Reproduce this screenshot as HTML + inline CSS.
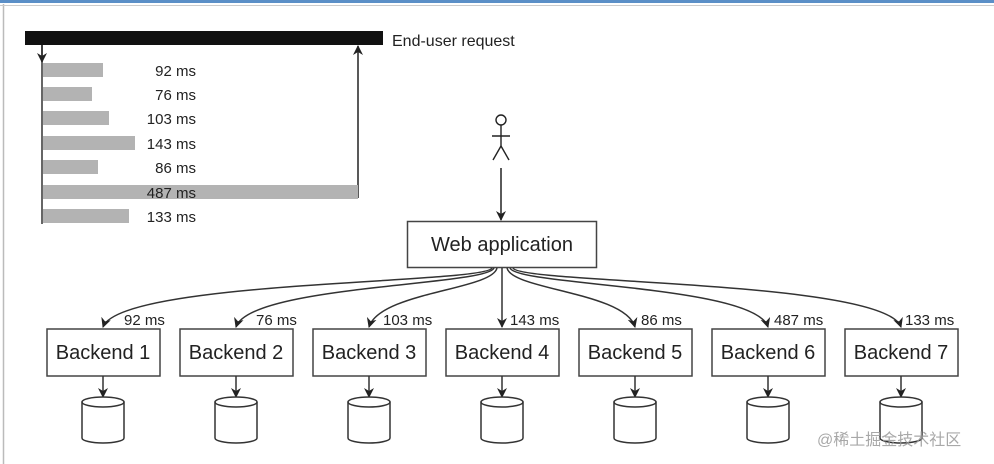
<!DOCTYPE html>
<html><head><meta charset="utf-8"><style>
html,body{margin:0;padding:0;background:#fff;}
svg{display:block;}
text{font-family:"Liberation Sans",sans-serif;fill:#222;}
</style></head><body>
<svg width="994" height="464" viewBox="0 0 994 464" xmlns="http://www.w3.org/2000/svg">
<defs>
<marker id="ah" viewBox="0 0 10 10" refX="9" refY="5" markerWidth="10" markerHeight="10" orient="auto-start-reverse" markerUnits="userSpaceOnUse">
<path d="M0,0 L10,5 L0,10 L3,5 z" fill="#222"/>
</marker>
</defs>
<rect x="0" y="0" width="994" height="3" fill="#5b8fc7"/>
<line x1="3.5" y1="4" x2="3.5" y2="464" stroke="#bbb" stroke-width="1.5"/>
<line x1="0" y1="5.5" x2="994" y2="5.5" stroke="#ccc" stroke-width="1"/>
<rect x="25" y="31" width="358" height="14" fill="#111"/>
<text x="392" y="46" font-size="16">End-user request</text>
<line x1="42" y1="45" x2="42" y2="224" stroke="#333" stroke-width="1.5"/>
<line x1="42" y1="45" x2="42" y2="62" stroke="#222" stroke-width="1.5" marker-end="url(#ah)"/>
<line x1="358" y1="198" x2="358" y2="46" stroke="#222" stroke-width="1.5" marker-end="url(#ah)"/>
<g fill="#b3b3b3">
<rect x="43" y="63" width="60" height="14"/>
<rect x="43" y="87" width="49" height="14"/>
<rect x="43" y="111" width="66" height="14"/>
<rect x="43" y="136" width="92" height="14"/>
<rect x="43" y="160" width="55" height="14"/>
<rect x="43" y="185" width="315" height="14"/>
<rect x="43" y="209" width="86" height="14"/>
</g>
<g font-size="15" text-anchor="end">
<text x="196" y="76">92 ms</text>
<text x="196" y="100">76 ms</text>
<text x="196" y="124">103 ms</text>
<text x="196" y="149">143 ms</text>
<text x="196" y="173">86 ms</text>
<text x="196" y="198">487 ms</text>
<text x="196" y="222">133 ms</text>
</g>
<g stroke="#222" stroke-width="1.4" fill="none">
<circle cx="501" cy="120" r="5"/>
<line x1="501" y1="125" x2="501" y2="146"/>
<line x1="492" y1="136" x2="510" y2="136"/>
<line x1="501" y1="146" x2="493" y2="160"/>
<line x1="501" y1="146" x2="509" y2="160"/>
</g>
<line x1="501" y1="168" x2="501" y2="220" stroke="#222" stroke-width="1.5" marker-end="url(#ah)"/>
<rect x="407.5" y="221.5" width="189" height="46" fill="#fff" stroke="#444" stroke-width="1.5"/>
<text x="502" y="251" font-size="20" text-anchor="middle">Web application</text>
<g stroke="#333" stroke-width="1.5" fill="none" marker-end="url(#ah)">
<path d="M492 268 C485 284, 120 280, 103 327"/>
<path d="M494 268 C487 286, 250 285, 236 327"/>
<path d="M497 268 C492 290, 380 292, 369 327"/>
<path d="M502 268 L502 327"/>
<path d="M507 268 C512 290, 625 292, 635 327"/>
<path d="M510 268 C517 286, 755 285, 768 327"/>
<path d="M513 268 C520 284, 885 280, 901 327"/>
</g>
<g font-size="15">
<text x="124" y="325">92 ms</text>
<text x="256" y="325">76 ms</text>
<text x="383" y="325">103 ms</text>
<text x="510" y="325">143 ms</text>
<text x="641" y="325">86 ms</text>
<text x="774" y="325">487 ms</text>
<text x="905" y="325">133 ms</text>
</g>
<g stroke="#444" stroke-width="1.5" fill="#fff">
<rect x="47" y="329" width="113" height="47"/>
<rect x="180" y="329" width="113" height="47"/>
<rect x="313" y="329" width="113" height="47"/>
<rect x="446" y="329" width="113" height="47"/>
<rect x="579" y="329" width="113" height="47"/>
<rect x="712" y="329" width="113" height="47"/>
<rect x="845" y="329" width="113" height="47"/>
</g>
<g font-size="20" text-anchor="middle">
<text x="103" y="359">Backend 1</text>
<text x="236" y="359">Backend 2</text>
<text x="369" y="359">Backend 3</text>
<text x="502" y="359">Backend 4</text>
<text x="635" y="359">Backend 5</text>
<text x="768" y="359">Backend 6</text>
<text x="901" y="359">Backend 7</text>
</g>
<g stroke="#333" stroke-width="1.5" fill="none">
<g transform="translate(103,0)"><line x1="0" y1="376" x2="0" y2="397" marker-end="url(#ah)"/><path d="M-21 402 A21 5 0 0 1 21 402 L21 438 A21 5 0 0 1 -21 438 Z" fill="#fff"/><path d="M-21 402 A21 5 0 0 0 21 402"/></g>
<g transform="translate(236,0)"><line x1="0" y1="376" x2="0" y2="397" marker-end="url(#ah)"/><path d="M-21 402 A21 5 0 0 1 21 402 L21 438 A21 5 0 0 1 -21 438 Z" fill="#fff"/><path d="M-21 402 A21 5 0 0 0 21 402"/></g>
<g transform="translate(369,0)"><line x1="0" y1="376" x2="0" y2="397" marker-end="url(#ah)"/><path d="M-21 402 A21 5 0 0 1 21 402 L21 438 A21 5 0 0 1 -21 438 Z" fill="#fff"/><path d="M-21 402 A21 5 0 0 0 21 402"/></g>
<g transform="translate(502,0)"><line x1="0" y1="376" x2="0" y2="397" marker-end="url(#ah)"/><path d="M-21 402 A21 5 0 0 1 21 402 L21 438 A21 5 0 0 1 -21 438 Z" fill="#fff"/><path d="M-21 402 A21 5 0 0 0 21 402"/></g>
<g transform="translate(635,0)"><line x1="0" y1="376" x2="0" y2="397" marker-end="url(#ah)"/><path d="M-21 402 A21 5 0 0 1 21 402 L21 438 A21 5 0 0 1 -21 438 Z" fill="#fff"/><path d="M-21 402 A21 5 0 0 0 21 402"/></g>
<g transform="translate(768,0)"><line x1="0" y1="376" x2="0" y2="397" marker-end="url(#ah)"/><path d="M-21 402 A21 5 0 0 1 21 402 L21 438 A21 5 0 0 1 -21 438 Z" fill="#fff"/><path d="M-21 402 A21 5 0 0 0 21 402"/></g>
<g transform="translate(901,0)"><line x1="0" y1="376" x2="0" y2="397" marker-end="url(#ah)"/><path d="M-21 402 A21 5 0 0 1 21 402 L21 438 A21 5 0 0 1 -21 438 Z" fill="#fff"/><path d="M-21 402 A21 5 0 0 0 21 402"/></g>
</g>
<text x="817" y="445" font-size="16" style="font-family:'Liberation Sans','Noto Sans CJK SC',sans-serif;fill:#999;opacity:0.85">@稀土掘金技术社区</text>
</svg>
</body></html>
